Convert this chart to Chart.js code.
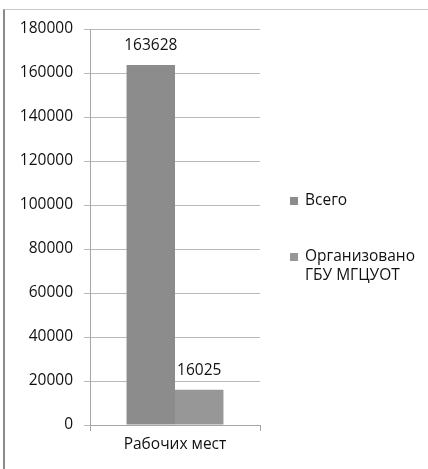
<!DOCTYPE html>
<html>
<head>
<meta charset="utf-8">
<script src="https://cdn.jsdelivr.net/npm/chart.js@4/dist/chart.umd.min.js"></script>
<style>
    html, body { margin: 0; padding: 0; background: #fff; }
    #wrap { position: relative; width: 428px; height: 469px; }
    #frame { position: absolute; left: 3px; top: 9px; right: -2px; bottom: -2px;
             border-left: 2px solid #8a8a8a; border-top: 1px solid #c8c8c8; }
    canvas { position: absolute; left: 0; top: 0; }
</style>
</head>
<body>
<div id="wrap">
    <div id="frame"></div>
    <canvas id="c" width="428" height="469"></canvas>
</div>
<script>
const categories = ['Рабочих мест'];
const seriesNames = [['Всего'], ['Организовано', 'ГБУ МГЦУОТ']];
const totalValues = [163628];
const organizedValues = [16025];
const yTicks = [0, 20000, 40000, 60000, 80000, 100000, 120000, 140000, 160000, 180000];

const colors = ['#8c8c8c', '#979797'];
const fontFamily = "'Open Sans', 'DejaVu Sans', sans-serif";
const textColor = '#111';

Chart.defaults.font.family = fontFamily;
Chart.defaults.font.size = 15.5;
Chart.defaults.color = textColor;

const valueLabels = {
    id: 'value_labels',
    afterDatasetsDraw: (chart) => {
        const { ctx } = chart;
        ctx.save();
        ctx.font = `15.5px ${fontFamily}`;
        ctx.fillStyle = textColor;
        ctx.textAlign = 'center';
        ctx.textBaseline = 'middle';
        chart.data.datasets.forEach((ds, i) => {
            chart.getDatasetMeta(i).data.forEach((bar, j) => {
                ctx.fillText(String(ds.data[j]), bar.x, bar.y - 19);
            });
        });
        ctx.restore();
    }
};

const sideLegend = {
    id: 'side_legend',
    afterDraw: (chart) => {
        const { ctx, chartArea } = chart;
        const x = chartArea.right + 30;
        const rows = [201, 257];
        ctx.save();
        ctx.font = `15.5px ${fontFamily}`;
        ctx.textBaseline = 'middle';
        ctx.textAlign = 'left';
        chart.data.datasets.forEach((ds, i) => {
            const y = rows[i];
            ctx.fillStyle = colors[i];
            ctx.fillRect(x, y - 4, 8, 8);
            ctx.fillStyle = textColor;
            seriesNames[i].forEach((line, k) => {
                ctx.fillText(line, x + 15, y + k * 19);
            });
        });
        ctx.restore();
    }
};

new Chart(document.getElementById('c'), {
    type: 'bar',
    data: {
        labels: categories,
        datasets: [
            { label: seriesNames[0].join(' '), data: totalValues, backgroundColor: colors[0] },
            { label: seriesNames[1].join(' '), data: organizedValues, backgroundColor: colors[1] }
        ]
    },
    options: {
        responsive: false,
        animation: false,
        layout: {
            padding: { left: 10, right: 168, top: 29, bottom: 0 }
        },
        categoryPercentage: 0.57,
        barPercentage: 1,
        scales: {
            x: {
                grid: {
                    display: true,
                    drawOnChartArea: false,
                    offset: true,
                    color: '#a6a6a6',
                    tickLength: 6
                },
                border: { color: '#a6a6a6' },
                ticks: { padding: 4, color: textColor },
                afterFit: (s) => { s.height = 44; }
            },
            y: {
                min: 0,
                max: 180000,
                afterBuildTicks: (s) => { s.ticks = yTicks.map(v => ({ value: v })); },
                grid: {
                    color: '#b8b8b8',
                    tickLength: 6
                },
                border: { color: '#a6a6a6' },
                ticks: { padding: 11, color: textColor, callback: (v) => String(v) },
                afterFit: (s) => { s.width = 80; }
            }
        },
        plugins: {
            legend: { display: false },
            tooltip: { enabled: false }
        }
    },
    plugins: [valueLabels, sideLegend]
});
</script>
</body>
</html>
